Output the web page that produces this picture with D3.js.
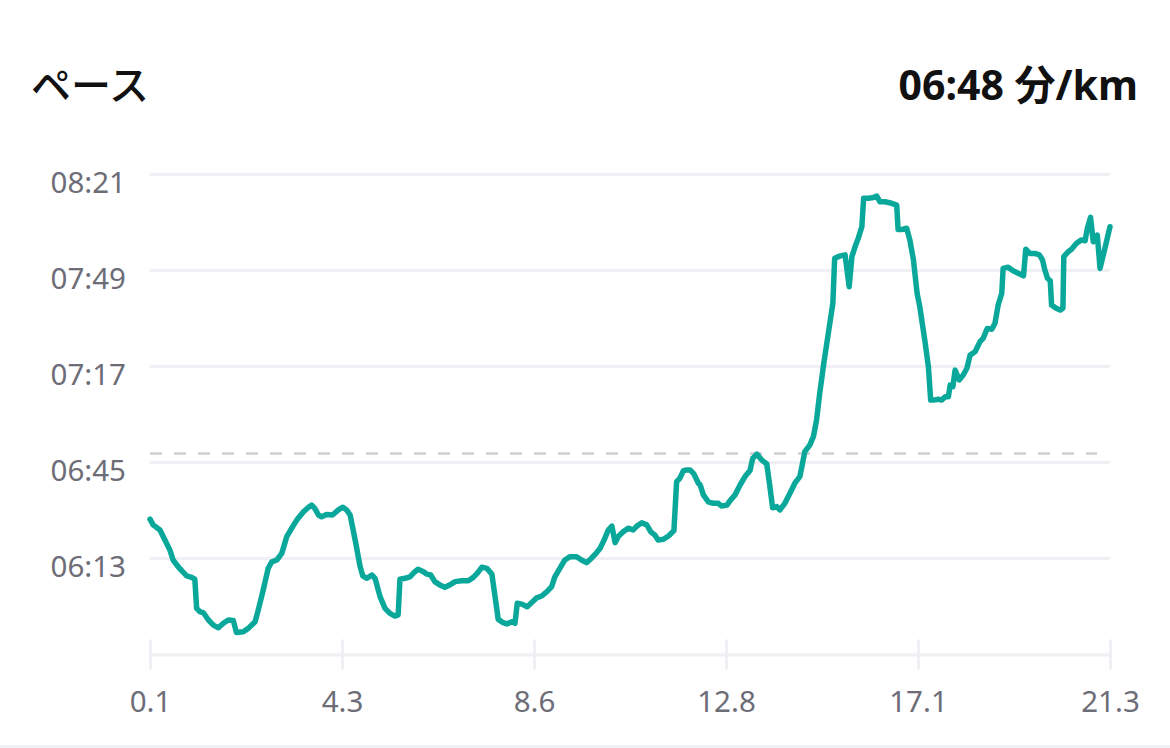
<!DOCTYPE html>
<html>
<head>
<meta charset="utf-8">
<script src="https://cdn.jsdelivr.net/npm/d3@7"></script>
<style>
  html, body { margin: 0; padding: 0; background: #fff; }
  svg { display: block; }
</style>
</head>
<body>
<svg id="chart" width="1170" height="748"></svg>
<script>
// ---- data ----
const title = "ペース";
const avgLabel = "06:48 分/km";
const avgPace = 408; // seconds per km (06:48)

const distanceKm = [
  0.1,0.17,0.32,0.43,0.54,0.61,0.72,0.82,0.91,1.02,1.09,1.13,1.20,1.28,1.39,1.50,1.61,1.72,1.83,1.94,
  2.01,2.16,2.27,2.42,2.49,2.60,2.71,2.79,2.90,3.01,3.12,3.23,3.34,3.49,3.60,3.67,3.74,3.82,3.89,4.00,
  4.13,4.26,4.36,4.44,4.52,4.63,4.74,4.80,4.89,5.00,5.07,5.18,5.29,5.40,5.51,5.58,5.62,5.73,5.84,5.95,
  6.02,6.14,6.21,6.30,6.39,6.50,6.61,6.72,6.84,6.98,7.13,7.24,7.33,7.43,7.54,7.65,7.72,7.79,7.90,7.98,
  8.09,8.16,8.21,8.31,8.43,8.53,8.64,8.75,8.86,8.97,9.04,9.15,9.26,9.38,9.52,9.63,9.74,9.85,9.96,10.04,
  10.13,10.22,10.30,10.37,10.44,10.55,10.66,10.77,10.85,10.96,11.07,11.16,11.25,11.32,11.44,11.55,11.67,11.73,11.80,11.88,
  11.95,12.03,12.11,12.21,12.25,12.32,12.43,12.54,12.65,12.72,12.84,12.91,13.02,13.13,13.24,13.35,13.41,13.50,13.61,13.72,
  13.79,13.85,13.94,14.01,14.12,14.23,14.34,14.45,14.51,14.56,14.67,14.75,14.82,14.89,14.98,15.08,15.18,15.22,15.33,15.45,
  15.54,15.60,15.67,15.74,15.82,15.86,15.97,16.07,16.15,16.22,16.33,16.48,16.59,16.62,16.72,16.81,16.88,16.96,17.04,17.10,
  17.21,17.29,17.34,17.40,17.51,17.58,17.66,17.73,17.77,17.83,17.88,17.97,18.06,18.14,18.21,18.32,18.43,18.50,18.59,18.69,
  18.76,18.83,18.91,18.94,19.05,19.16,19.27,19.39,19.44,19.53,19.64,19.74,19.81,19.86,19.92,19.98,20.01,20.11,20.20,20.26,
  20.28,20.38,20.45,20.56,20.67,20.75,20.80,20.87,20.93,21.02,21.08,21.17,21.30
];

const paceSec = [
  386.1,384.2,382.5,379.2,375.8,372.5,370.3,368.6,367.2,366.7,366.1,356.4,355.3,354.9,352.5,350.8,349.9,351.4,352.5,352.3,
  348.3,348.6,349.7,351.9,355.8,362.5,369.7,371.9,372.5,374.7,380.3,383.1,385.8,388.6,390.1,390.8,389.7,387.5,386.9,387.7,
  387.5,389.2,390.1,389.2,387.5,379.2,370.3,367.2,366.4,367.5,366.4,360.3,356.4,354.7,353.8,354.2,366.1,366.4,366.9,368.6,
  369.4,368.6,367.8,367.5,365.3,364.2,363.4,364.2,365.3,365.6,365.6,366.7,368.1,370.1,369.7,367.8,360.3,352.7,351.6,351.2,
  351.9,351.4,358.1,357.8,356.9,358.3,359.9,360.5,361.9,363.6,366.9,369.7,372.5,373.6,373.6,372.5,371.6,373.1,374.9,376.4,
  379.2,382.5,383.8,378.3,380.3,381.9,383.1,382.5,383.8,384.9,384.2,381.9,380.8,379.2,379.4,380.5,382.3,398.6,399.7,402.3,
  402.5,402.5,401.2,398.1,397.5,394.2,391.9,391.4,391.4,390.5,390.8,392.3,394.2,397.5,400.3,402.3,406.4,407.8,405.8,404.5,
  396.9,389.9,390.3,389.2,391.4,394.7,398.1,400.3,404.7,408.6,410.8,413.6,419.2,428.1,438.1,448.1,458.1,473.1,473.8,474.2,
  463.6,473.6,476.9,479.7,483.6,493.1,493.1,493.3,493.8,491.9,491.9,491.4,490.8,482.7,482.7,483.1,479.2,472.5,461.4,456.9,
  445.8,436.9,425.8,425.8,426.1,425.8,426.9,426.9,430.8,430.3,435.8,432.5,434.2,436.4,440.8,441.9,445.3,446.4,449.7,449.4,
  451.4,457.5,461.4,469.7,470.1,468.9,468.1,467.2,476.1,474.7,474.7,474.2,472.5,469.2,466.4,465.6,457.5,456.4,455.8,456.4,
  473.6,475.3,476.1,478.1,479.2,478.9,483.1,486.7,478.6,480.8,469.7,475.3,483.6
];

const xTicks = [0.1, 4.34, 8.58, 12.82, 17.06, 21.3];
const xTickLabels = ["0.1", "4.3", "8.6", "12.8", "17.1", "21.3"];
const yTicks = [373, 405, 437, 469, 501];
const yTickLabels = ["06:13", "06:45", "07:17", "07:49", "08:21"];
const yMin = 341;

// ---- layout ----
const svg = d3.select("#chart");
const W = 1170, H = 748;
const plotLeft = 150, plotRight = 1110, plotTop = 174.5, plotBottom = 654.5;
const gridColor = "#eef0f4";
const labelColor = "#6d6d78";
const lineColor = "#0aa89b";
const fontLatin = "'Noto Sans', 'Open Sans', 'Noto Sans CJK JP', sans-serif";

const x = d3.scaleLinear().domain([xTicks[0], xTicks[xTicks.length - 1]]).range([plotLeft, plotRight]);
const y = d3.scaleLinear().domain([yMin, yTicks[yTicks.length - 1]]).range([plotBottom, plotTop]);

// gridlines
svg.append("g").selectAll("line").data(yTicks).join("line")
  .attr("x1", plotLeft).attr("x2", plotRight)
  .attr("y1", d => y(d)).attr("y2", d => y(d))
  .attr("stroke", gridColor).attr("stroke-width", 3);

// y labels
svg.append("g").selectAll("text").data(yTicks).join("text")
  .attr("x", 126).attr("y", d => y(d) + 18)
  .attr("text-anchor", "end")
  .attr("font-family", fontLatin).attr("font-size", 29.5)
  .attr("fill", labelColor)
  .text((d, i) => yTickLabels[i]);

// x axis
const xAxis = d3.axisBottom(x).tickValues(xTicks)
  .tickFormat((d, i) => xTickLabels[i]).tickSize(0).tickPadding(0);
const gx = svg.append("g").attr("transform", `translate(0,${plotBottom})`).call(xAxis);
gx.select(".domain").attr("stroke", gridColor).attr("stroke-width", 3);
gx.selectAll(".tick line").attr("y1", -15).attr("y2", 15)
  .attr("stroke", gridColor).attr("stroke-width", 3);
gx.selectAll(".tick text")
  .attr("y", 57).attr("dy", 0)
  .attr("font-family", fontLatin).attr("font-size", 29.5)
  .attr("fill", labelColor);

// average dashed line
svg.append("line")
  .attr("x1", plotLeft).attr("x2", 1097)
  .attr("y1", y(avgPace)).attr("y2", y(avgPace))
  .attr("stroke", "#cfcfd2").attr("stroke-width", 2.5)
  .attr("stroke-dasharray", "12,12");

// pace line
const pts = distanceKm.map((d, i) => [d, paceSec[i]]);
svg.append("path")
  .datum(pts)
  .attr("fill", "none")
  .attr("stroke", lineColor)
  .attr("stroke-width", 5.5)
  .attr("stroke-linejoin", "round")
  .attr("stroke-linecap", "round")
  .attr("d", d3.line().x(d => x(d[0])).y(d => y(d[1])));

// header
svg.append("text")
  .attr("x", 31).attr("y", 100)
  .attr("font-family", "'Noto Sans CJK JP', sans-serif")
  .attr("font-size", 40).attr("font-weight", 500)
  .attr("fill", "#111")
  .text(title);

svg.append("text")
  .attr("x", 1138).attr("y", 100)
  .attr("text-anchor", "end")
  .attr("font-family", fontLatin)
  .attr("font-size", 41).attr("font-weight", 700)
  .attr("fill", "#111")
  .text(avgLabel);

// bottom separator
svg.append("line")
  .attr("x1", 0).attr("x2", W).attr("y1", 746.5).attr("y2", 746.5)
  .attr("stroke", gridColor).attr("stroke-width", 3);
</script>
</body>
</html>
